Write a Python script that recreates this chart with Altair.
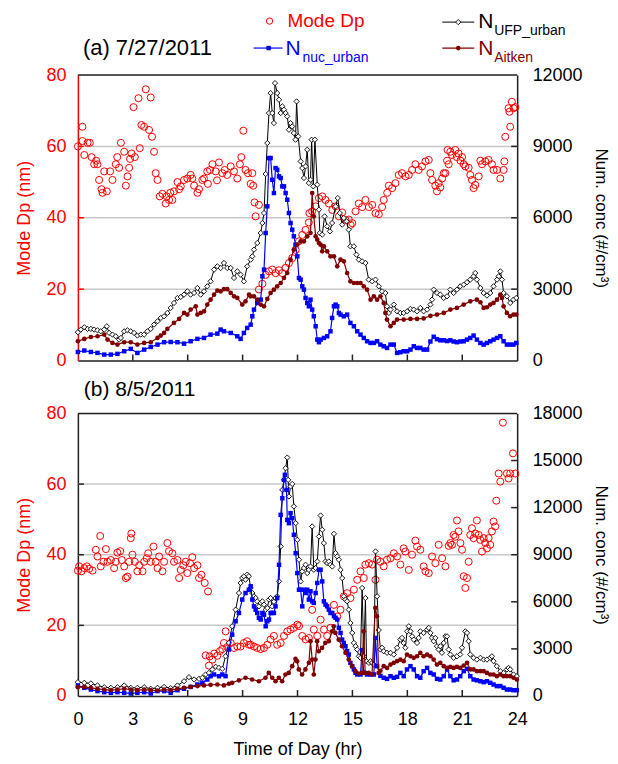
import altair as alt
import pandas as pd

FONT = "Liberation Sans"
RED = "#ff0000"
BLUE = "#0000ff"
MAROON = "#800000"
FRAME = "#222222"

# ---------------- Panel (a) 7/27/2011 ----------------
a_dp = [(0.00,60.0),(0.25,65.5),(0.25,61.5),(0.35,57.6),(0.53,61.0),(0.65,61.0),(0.75,57.0),(0.89,55.0),(1.00,56.0),(1.07,55.0),(1.16,50.6),(1.29,48.0),(1.35,47.0),(1.44,53.0),(1.58,47.4),(1.76,53.0),(1.89,50.6),(2.07,55.0),(2.15,57.0),(2.25,54.0),(2.35,61.0),(2.53,58.5),(2.62,49.0),(2.71,51.6),(2.80,54.0),(2.85,56.5),(2.93,58.0),(3.04,71.0),(3.11,57.0),(3.31,73.5),(3.38,59.5),(3.47,66.0),(3.62,65.5),(3.71,76.0),(3.89,64.6),(3.98,73.7),(4.05,62.7),(4.16,58.5),(4.25,52.5),(4.35,50.6),(4.47,46.0),(4.62,46.7),(4.80,44.0),(4.85,46.0),(4.98,45.0),(5.05,47.0),(5.16,45.0),(5.25,47.4),(5.44,50.0),(5.53,48.0),(5.62,48.8),(5.80,50.6),(5.98,51.0),(6.16,52.0),(6.25,51.0),(6.35,49.0),(6.53,47.0),(6.62,48.0),(6.80,50.6),(6.89,51.0),(7.07,53.0),(7.10,49.5),(7.22,53.4),(7.35,55.0),(7.53,53.0),(7.60,50.5),(7.71,55.5),(7.89,52.5),(8.02,53.4),(8.16,52.0),(8.35,54.4),(8.53,53.0),(8.71,51.0),(8.85,55.0),(8.93,57.0),(9.04,64.4),(9.16,53.4),(9.29,52.5),(9.44,49.5),(9.53,52.5),(9.58,49.0),(9.65,44.3),(9.71,40.4),(9.89,43.6),
        (9.89,19.9),(10.08,21.5),(10.26,24.0),(10.44,25.0),(10.62,25.5),(10.80,24.5),(10.99,25.3),(11.17,24.5),(11.35,26.0),(11.53,27.3),(11.71,28.7),(11.90,31.0),(12.08,33.4),(12.26,35.2),(12.44,36.6),(12.62,38.7),(12.65,41.3),(12.80,41.8),(12.99,43.2),(13.17,45.5),(13.35,46.0),(13.53,45.0),(13.71,44.0),(13.90,42.2),(14.08,43.2),(14.26,40.4),(14.44,41.5),(14.62,39.4),(14.80,39.5),(14.90,38.0),(14.99,38.5),(15.17,41.8),(15.35,44.0),(15.53,43.0),(15.71,45.0),(15.90,43.0),(16.08,43.6),(16.26,41.3),(16.44,41.0),(16.62,43.0),(16.71,45.0),(16.90,47.0),(16.99,49.0),(17.17,48.3),(17.35,49.7),(17.53,52.0),(17.71,52.5),(17.90,51.6),(18.08,52.0),(18.26,53.4),(18.44,55.0),(18.62,53.4),(18.80,54.4),(18.99,55.8),(19.17,56.2),(19.26,52.5),(19.35,50.6),(19.53,49.0),(19.62,47.4),(19.71,49.7),(19.80,48.5),(19.90,51.0),(19.99,52.5),(20.08,52.5),(20.17,56.0),(20.20,59.0),(20.26,55.0),(20.35,58.5),(20.44,57.6),(20.62,59.0),(20.70,57.0),(20.80,58.0),(20.90,56.0),(20.99,57.0),(21.08,55.0),(21.17,54.4),(21.35,54.0),(21.44,52.0),(21.53,50.6),(21.62,48.3),(21.71,49.2),(21.90,51.6),(21.99,56.0),(22.08,55.0),(22.26,55.8),(22.44,56.2),(22.62,55.0),(22.71,53.4),(22.90,53.4),(23.08,51.0),(23.26,53.4),(23.30,55.8),(23.35,62.7),(23.53,70.7),(23.58,69.7),(23.62,65.5),(23.71,72.5),(23.80,70.7),(23.90,71.0)]

a_ufp = [(0.00,1190),(0.16,1300),(0.35,1400),(0.53,1330),(0.71,1330),(0.89,1300),(1.07,1270),(1.25,1230),(1.44,1300),(1.58,1440),(1.71,1160),(1.89,1090),(2.07,1020),(2.25,880),(2.35,950),(2.53,1230),(2.71,1270),(2.89,1230),(3.07,1160),(3.25,1050),(3.44,1090),(3.62,1090),(3.80,1230),(3.98,1330),(4.16,1510),(4.35,1650),(4.53,1790),(4.71,1860),(4.89,2000),(5.07,2210),(5.25,2420),(5.44,2630),(5.62,2670),(5.80,2770),(5.98,2910),(6.16,2770),(6.35,2840),(6.53,3050),(6.71,2770),(6.89,2910),(7.07,3120),(7.25,3330),(7.44,3820),(7.62,3960),(7.80,3890),(7.98,4100),(8.16,3890),(8.35,3890),(8.53,3470),(8.71,3750),(8.89,3610),(9.07,3330),(9.25,3960),(9.44,4240),(9.53,4380),(9.62,4660),(9.80,4940),(9.99,5360),(10.08,5780),(10.17,6200),(10.26,7840),(10.35,9140),(10.44,10400),(10.53,11240),(10.62,10400),(10.71,9980),(10.77,11660),(10.89,11240),(10.99,10960),(11.08,10400),(11.17,10680),(11.26,10540),(11.35,10400),(11.44,10260),(11.53,9700),(11.62,9980),(11.71,9840),(11.80,9560),(11.89,9280),(11.95,10890),(12.04,9420),(12.17,8370),(12.26,8090),(12.35,7670),(12.44,8160),(12.53,8860),(12.62,7460),(12.71,7600),(12.77,9280),(12.86,7320),(12.95,9280),(13.08,7390),(13.17,6340),(13.22,5360),(13.35,5290),(13.48,6060),(13.62,5640),(13.77,5430),(13.89,5780),(14.08,6480),(14.20,6830),(14.31,6200),(14.44,5710),(14.53,5990),(14.68,5850),(14.80,5500),(14.89,4800),(15.08,4800),(15.22,4450),(15.35,4240),(15.53,4170),(15.71,4100),(15.89,3400),(16.08,3330),(16.26,3400),(16.44,3120),(16.62,2910),(16.80,2840),(16.89,2280),(16.99,2000),(17.08,2140),(17.26,2350),(17.44,2070),(17.62,2000),(17.80,2000),(17.99,2070),(18.17,2170),(18.35,2140),(18.53,2070),(18.71,2210),(18.89,2070),(19.08,2140),(19.26,2350),(19.35,2560),(19.44,2980),(19.62,2840),(19.80,2770),(19.99,2630),(20.17,2700),(20.35,2980),(20.53,2840),(20.71,2980),(20.89,3120),(21.08,3190),(21.26,3290),(21.44,3400),(21.62,3540),(21.71,3680),(21.80,3400),(21.99,3050),(22.17,2840),(22.35,2730),(22.53,2840),(22.71,3120),(22.90,3400),(22.99,3540),(23.08,3750),(23.17,3400),(23.26,2840),(23.44,2700),(23.62,2420),(23.80,2560),(23.95,2630)]

a_nuc = [(0.00,360),(0.35,420),(0.71,360),(1.07,320),(1.44,250),(1.80,250),(2.16,280),(2.53,390),(2.89,490),(3.25,320),(3.62,460),(3.98,570),(4.35,670),(4.71,770),(5.07,780),(5.44,770),(5.80,710),(6.16,810),(6.53,910),(6.89,950),(7.25,1090),(7.62,1130),(7.80,1300),(7.98,1230),(8.35,1160),(8.71,1020),(8.89,910),(9.07,1160),(9.25,1370),(9.44,1510),(9.53,1860),(9.62,2140),(9.80,2420),(9.99,2560),(10.08,3540),(10.17,3820),(10.26,5360),(10.35,6480),(10.44,8510),(10.53,8510),(10.62,7600),(10.71,7040),(10.80,8090),(10.89,8020),(10.99,7740),(11.08,7670),(11.17,7320),(11.26,7320),(11.35,7040),(11.44,6760),(11.53,6200),(11.62,5780),(11.71,5500),(11.80,5220),(11.89,4870),(11.99,4380),(12.08,3470),(12.17,3400),(12.26,3120),(12.35,2980),(12.44,2630),(12.53,2420),(12.62,2280),(12.71,2560),(12.80,2140),(12.89,1860),(12.99,1440),(13.08,880),(13.17,770),(13.26,880),(13.44,950),(13.62,1020),(13.80,1230),(13.89,1790),(13.99,2280),(14.08,2350),(14.17,2280),(14.26,2000),(14.35,1930),(14.53,1860),(14.71,1930),(14.89,1580),(15.08,1440),(15.26,1230),(15.44,1090),(15.62,950),(15.80,810),(15.99,740),(16.17,740),(16.35,810),(16.53,670),(16.71,600),(16.89,530),(17.08,670),(17.26,670),(17.44,320),(17.62,350),(17.80,390),(17.99,390),(18.17,460),(18.35,600),(18.53,530),(18.71,530),(18.89,460),(19.08,460),(19.26,800),(19.44,1000),(19.62,900),(19.80,850),(19.99,850),(20.17,820),(20.35,850),(20.53,800),(20.71,770),(20.89,800),(21.08,810),(21.26,880),(21.44,950),(21.62,1050),(21.80,880),(21.99,740),(22.17,670),(22.35,740),(22.53,810),(22.71,880),(22.90,950),(23.08,1020),(23.26,810),(23.44,670),(23.62,670),(23.80,670),(23.95,740)]

a_ait = [(0.00,810),(0.35,910),(0.71,990),(1.07,1020),(1.44,1090),(1.62,880),(1.89,740),(2.16,670),(2.53,770),(2.89,770),(3.25,670),(3.62,740),(3.98,770),(4.35,950),(4.53,1050),(4.71,1160),(4.89,1330),(5.25,1580),(5.53,1750),(5.80,2000),(5.98,1930),(6.16,2140),(6.44,2280),(6.53,1930),(6.71,2000),(6.89,2070),(7.07,2350),(7.25,2560),(7.44,2770),(7.62,2940),(7.80,2910),(7.98,3000),(8.16,3000),(8.35,2840),(8.53,2700),(8.71,2630),(8.98,2350),(9.16,2490),(9.35,2770),(9.44,2700),(9.62,2700),(9.80,2560),(9.99,2350),(10.17,2280),(10.35,2590),(10.53,2840),(10.71,2980),(10.89,3120),(11.08,3260),(11.26,3470),(11.44,3680),(11.62,4240),(11.80,4660),(11.99,4870),(12.17,5010),(12.35,5010),(12.53,5220),(12.71,5360),(12.80,7040),(12.89,6060),(12.99,5220),(13.08,5080),(13.17,4940),(13.26,4870),(13.35,4590),(13.44,4800),(13.62,4590),(13.80,4380),(13.99,4380),(14.17,3960),(14.35,4240),(14.53,4170),(14.71,3680),(14.89,3330),(15.08,3260),(15.26,3260),(15.44,3260),(15.62,3120),(15.80,2980),(15.99,2560),(16.17,2700),(16.35,2560),(16.53,2700),(16.71,2420),(16.80,2000),(16.89,1720),(17.08,1440),(17.26,1580),(17.44,1720),(17.80,1720),(18.17,1750),(18.53,1750),(18.89,1770),(19.26,1880),(19.62,1930),(19.99,2000),(20.35,2140),(20.71,2210),(21.08,2350),(21.44,2490),(21.80,2560),(21.99,2450),(22.17,2210),(22.35,2240),(22.53,2350),(22.71,2420),(22.90,2560),(23.08,2770),(23.17,2630),(23.26,2280),(23.44,2000),(23.62,1860),(23.80,1930),(23.95,1930)]

# ---------------- Panel (b) 8/5/2011 ----------------
b_dp = [(0.00,35.5),(0.07,36.7),(0.20,35.3),(0.35,36.2),(0.49,36.7),(0.62,36.0),(0.80,35.5),(0.98,41.4),(1.07,39.5),(1.22,45.3),(1.25,36.7),(1.40,38.0),(1.53,41.6),(1.62,38.0),(1.80,38.5),(1.98,36.2),(2.07,38.0),(2.16,40.6),(2.31,41.0),(2.40,38.5),(2.53,36.7),(2.62,33.4),(2.71,33.8),(2.80,38.0),(2.89,44.7),(2.92,46.0),(2.98,40.0),(3.11,38.0),(3.25,35.3),(3.35,37.0),(3.53,35.3),(3.62,38.0),(3.76,39.0),(3.84,40.4),(3.98,38.0),(4.13,42.3),(4.25,38.0),(4.35,36.2),(4.44,39.5),(4.62,35.3),(4.71,38.0),(4.89,43.3),(4.98,41.0),(5.16,40.4),(5.25,38.0),(5.44,38.5),(5.53,33.4),(5.62,35.7),(5.76,37.0),(5.89,38.0),(5.98,34.8),(6.13,37.6),(6.25,39.3),(6.35,36.2),(6.53,37.0),(6.62,33.4),(6.75,34.3),(6.93,32.0),(7.11,29.6),
        (6.98,11.5),(7.16,8.6),(7.20,11.2),(7.35,10.3),(7.45,12.0),(7.62,11.4),(7.76,12.7),(7.89,13.3),(7.98,15.0),(8.07,18.3),(8.16,13.9),(8.35,15.0),(8.53,13.6),(8.71,14.0),(8.89,14.0),(9.07,15.0),(9.25,15.5),(9.35,14.5),(9.44,14.5),(9.62,14.0),(9.80,13.6),(9.99,13.3),(10.17,13.6),(10.35,14.5),(10.53,16.0),(10.71,17.0),(10.89,14.5),(11.08,15.0),(11.26,17.0),(11.44,18.3),(11.62,18.8),(11.80,19.3),(11.99,20.2),(12.08,19.8),(12.26,17.0),(12.44,16.0),(12.62,16.4),(12.80,24.4),(12.89,18.8),(13.08,17.0),(13.26,21.6),(13.44,18.8),(13.62,17.0),(13.80,19.3),(13.99,25.8),(14.17,22.5),(14.35,24.4),(14.53,28.2),(14.71,29.1),(14.89,27.7),(15.08,30.1),(15.26,32.9),(15.44,35.3),(15.62,33.4),(15.71,37.2),(15.90,37.6),(16.08,37.2),(16.26,32.9),(16.35,38.6),(16.53,38.0),(16.71,36.7),(16.89,38.6),(17.08,39.0),(17.26,40.4),(17.44,39.5),(17.62,37.2),(17.80,41.8),(17.89,40.9),(18.08,35.7),(18.26,40.0),(18.44,44.0),(18.53,42.3),(18.71,41.4),(18.89,36.7),(18.99,35.3),(19.17,34.8),(19.35,39.5),(19.53,37.6),(19.71,42.8),(19.90,39.0),(20.08,36.7),(20.26,42.5),(20.35,43.3),(20.44,42.8),(20.53,45.6),(20.62,45.1),(20.71,49.7),(20.80,46.6),(20.90,43.3),(20.99,41.4),(21.08,33.9),(21.17,30.6),(21.26,33.4),(21.35,38.0),(21.44,45.6),(21.53,47.5),(21.62,44.7),(21.71,46.0),(21.80,49.7),(21.90,45.6),(21.99,44.2),(22.08,40.9),(22.17,44.7),(22.26,43.3),(22.35,41.8),(22.44,44.7),(22.53,42.8),(22.62,46.6),(22.71,49.4),(22.80,48.0),(22.86,55.3),(22.99,63.0),(23.08,60.7),(23.22,77.4),(23.44,63.0),(23.53,61.6),(23.62,63.0),(23.77,68.7),(23.90,63.0)]

b_ufp = [(0.00,880),(0.35,840),(0.71,800),(1.07,670),(1.44,560),(1.80,520),(2.16,560),(2.53,670),(2.89,520),(3.25,520),(3.62,560),(3.98,460),(4.35,520),(4.71,580),(5.07,500),(5.44,670),(5.80,940),(6.07,1200),(6.35,1050),(6.62,1090),(6.80,1160),(6.98,1370),(7.16,1470),(7.35,1690),(7.53,1860),(7.71,1790),(7.89,1730),(8.07,2530),(8.25,3380),(8.43,4440),(8.62,5500),(8.80,6560),(8.89,7200),(8.98,7520),(9.07,7620),(9.16,7410),(9.25,7730),(9.34,7630),(9.44,6880),(9.53,6560),(9.62,6350),(9.71,6240),(9.80,6030),(9.89,5710),(9.99,5930),(10.08,6030),(10.17,5820),(10.26,5500),(10.35,5600),(10.44,6140),(10.53,6240),(10.62,5710),(10.71,6000),(10.80,6240),(10.89,6350),(10.99,7300),(11.08,9530),(11.17,13130),(11.26,13770),(11.35,14510),(11.44,15190),(11.49,13770),(11.53,12710),(11.62,13350),(11.71,13510),(11.80,12080),(11.90,11010),(11.99,9950),(12.08,8680),(12.17,7300),(12.26,7940),(12.35,8150),(12.44,8360),(12.53,7830),(12.62,8040),(12.71,8250),(12.80,10800),(12.89,8040),(12.99,8150),(13.08,8570),(13.17,10160),(13.26,11500),(13.35,10590),(13.44,9740),(13.53,8570),(13.62,8470),(13.71,8570),(13.80,8360),(13.90,8250),(13.99,10330),(14.08,9100),(14.17,8890),(14.26,8680),(14.35,8040),(14.44,7510),(14.53,6350),(14.62,6140),(14.71,6030),(14.80,5500),(14.89,4650),(14.99,4020),(15.08,3380),(15.17,3170),(15.26,2960),(15.35,2530),(15.44,2430),(15.53,6880),(15.62,2530),(15.71,6240),(15.77,2210),(15.90,2110),(15.99,2210),(16.08,2110),(16.17,2000),(16.26,9210),(16.35,6350),(16.44,4200),(16.53,2960),(16.62,3070),(16.71,2850),(16.89,2750),(17.08,2750),(17.26,2640),(17.44,3070),(17.62,3590),(17.71,3700),(17.80,3380),(17.89,3070),(17.99,4120),(18.08,4440),(18.17,4120),(18.26,3800),(18.35,3590),(18.53,3380),(18.62,3700),(18.71,4120),(18.89,4020),(19.08,4230),(19.17,4340),(19.26,4020),(19.35,3700),(19.44,3490),(19.53,3700),(19.62,3170),(19.71,2960),(19.80,3170),(19.89,2750),(19.99,3380),(20.08,3800),(20.17,3800),(20.26,2960),(20.35,2640),(20.53,2430),(20.71,2530),(20.89,2640),(20.99,3070),(21.17,4120),(21.26,4020),(21.35,3490),(21.44,2640),(21.62,2430),(21.80,2320),(21.99,2430),(22.17,2320),(22.35,2320),(22.53,2430),(22.62,2530),(22.71,2220),(22.89,1900),(23.08,1580),(23.26,1470),(23.44,1690),(23.53,1790),(23.62,1690),(23.80,1370),(23.98,1260)]

b_nuc = [(0.00,670),(0.35,520),(0.71,410),(1.07,310),(1.44,240),(1.80,200),(2.16,240),(2.53,200),(2.89,160),(3.25,200),(3.62,240),(3.98,160),(4.35,310),(4.71,310),(5.07,200),(5.44,370),(5.80,460),(6.16,580),(6.53,730),(6.80,840),(7.07,1050),(7.25,1260),(7.44,1370),(7.71,1260),(7.89,1370),(8.07,1260),(8.25,2960),(8.43,3910),(8.62,4760),(8.80,5290),(8.98,6140),(9.16,6560),(9.34,6770),(9.44,6990),(9.53,6140),(9.62,5710),(9.71,5500),(9.80,5290),(9.89,4980),(9.99,4870),(10.08,5290),(10.17,5180),(10.26,4440),(10.35,4760),(10.44,4870),(10.53,5290),(10.62,5290),(10.71,5290),(10.80,5710),(10.89,6240),(10.99,8360),(11.08,11540),(11.17,12600),(11.26,13770),(11.31,14090),(11.40,13130),(11.44,11220),(11.53,11010),(11.62,11650),(11.71,11330),(11.80,10270),(11.90,9100),(11.99,7830),(12.08,6770),(12.17,6770),(12.26,5710),(12.35,6770),(12.44,6560),(12.53,6770),(12.62,6140),(12.71,6670),(12.80,6030),(12.89,5930),(12.99,6560),(13.08,7200),(13.17,8040),(13.26,8040),(13.35,7300),(13.44,6030),(13.53,5820),(13.62,5710),(13.71,5500),(13.80,5290),(13.90,5290),(13.99,5080),(14.08,4980),(14.17,4870),(14.26,4340),(14.35,4020),(14.44,3590),(14.53,3380),(14.62,3170),(14.71,2860),(14.80,2640),(14.89,2110),(14.99,1900),(15.08,1690),(15.17,1480),(15.26,1370),(15.44,1370),(15.53,2920),(15.62,1480),(15.80,1370),(15.99,1370),(16.17,1370),(16.26,3700),(16.35,1900),(16.53,1280),(16.71,1160),(16.89,1090),(17.08,1260),(17.26,1160),(17.44,1220),(17.62,1470),(17.80,1260),(17.98,1690),(18.17,1900),(18.35,1690),(18.53,1260),(18.71,1160),(18.89,1580),(19.08,1790),(19.26,1470),(19.44,1370),(19.62,1090),(19.80,1050),(19.99,1260),(20.17,1690),(20.35,1260),(20.53,1000),(20.71,1050),(20.89,1260),(21.08,1580),(21.26,1730),(21.44,1260),(21.62,1050),(21.80,1000),(21.99,940),(22.17,880),(22.35,940),(22.53,840),(22.71,730),(22.89,630),(23.08,630),(23.26,520),(23.44,410),(23.62,410),(23.80,370),(23.98,370)]

b_ait = [(0.00,560),(0.35,580),(0.71,520),(1.07,460),(1.44,410),(1.80,370),(2.16,410),(2.53,460),(2.89,410),(3.25,370),(3.62,410),(3.98,370),(4.35,350),(4.71,410),(5.07,370),(5.44,460),(5.80,520),(6.16,580),(6.53,630),(6.89,670),(7.25,710),(7.62,730),(7.98,670),(8.25,780),(8.43,840),(8.80,1000),(9.16,1160),(9.52,1050),(9.89,940),(10.25,1160),(10.43,1470),(10.62,1160),(10.80,940),(10.98,1160),(11.16,940),(11.34,1370),(11.52,1470),(11.71,1900),(11.89,2360),(11.98,2210),(12.07,1690),(12.25,1370),(12.43,1690),(12.62,2110),(12.71,3490),(12.80,2320),(12.89,1370),(12.98,2320),(13.07,3490),(13.16,2850),(13.34,3070),(13.52,3380),(13.71,3490),(13.89,4120),(13.98,4440),(14.07,4020),(14.25,3590),(14.43,3170),(14.62,2750),(14.80,2320),(14.98,1900),(15.16,1580),(15.34,1430),(15.52,1470),(15.61,4120),(15.70,1470),(15.89,1470),(16.07,1370),(16.25,5610),(16.34,5080),(16.43,1470),(16.53,1600),(16.71,1900),(16.89,1790),(17.08,2000),(17.26,2110),(17.44,2220),(17.62,2320),(17.80,2220),(17.98,2640),(18.17,2530),(18.35,2430),(18.53,2530),(18.71,2750),(18.89,2530),(19.08,2640),(19.26,2530),(19.44,2320),(19.62,2000),(19.80,2110),(19.99,1900),(20.17,1790),(20.35,1850),(20.53,1790),(20.71,1850),(20.89,1790),(21.08,1940),(21.26,2110),(21.44,1690),(21.62,1690),(21.80,1580),(21.99,1580),(22.17,1580),(22.35,1470),(22.53,1370),(22.71,1370),(22.89,1260),(23.08,1370),(23.26,1260),(23.44,1260),(23.62,1260),(23.80,1160),(23.98,1050)]

X_TICKS = [0, 3, 6, 9, 12, 15, 18, 21, 24]
DP_TICKS = [0, 20, 40, 60, 80]
DP_GRID = [20, 40, 60]
A_N_TICKS = [0, 3000, 6000, 9000, 12000]
B_N_TICKS = [0, 3000, 6000, 9000, 12000, 15000, 18000]

W = 440
ONE = pd.DataFrame({"k": [0]})


def make_x(show):
    if show:
        ax = alt.Axis(values=X_TICKS, labels=True, ticks=False, tickSize=0, domain=True,
                      domainColor=FRAME, domainWidth=1.5, grid=False, labelFontSize=18,
                      labelFont=FONT, labelColor="black", labelPadding=15, labelFlush=False,
                      titleFontSize=18, titleFont=FONT, titleFontWeight="normal",
                      titleColor="black", titlePadding=12)
        return alt.X("t:Q", scale=alt.Scale(domain=[0, 24], nice=False, zero=False),
                     axis=ax, title="Time of Day (hr)")
    ax = alt.Axis(values=X_TICKS, labels=False, ticks=False, tickSize=0, domain=True,
                  domainColor=FRAME, domainWidth=1.5, grid=False)
    return alt.X("t:Q", scale=alt.Scale(domain=[0, 24], nice=False, zero=False),
                 axis=ax, title=None)


def make_ydp(left_color):
    ax = alt.Axis(values=DP_TICKS, orient="left", labelColor=RED, titleColor=RED,
                  domainColor=left_color, domainWidth=1.5, ticks=False, tickSize=0,
                  grid=False, labelFontSize=18, labelFont=FONT, labelPadding=12,
                  titleFontSize=18, titleFont=FONT, titleFontWeight="normal", titlePadding=12)
    return alt.Y("dp:Q", scale=alt.Scale(domain=[0, 80], nice=False, zero=True),
                 axis=ax, title="Mode Dp (nm)")


def make_yn(nmax, nticks):
    ax = alt.Axis(values=nticks, orient="right", format="d", labelColor="black",
                  titleColor="black", domainColor=FRAME, domainWidth=1.5, ticks=False,
                  tickSize=0, grid=False, labelFontSize=18, labelFont=FONT, labelPadding=15,
                  titleFontSize=17, titleFont=FONT, titleFontWeight="normal", titlePadding=9)
    return alt.Y("n:Q", scale=alt.Scale(domain=[0, nmax], nice=False, zero=True),
                 axis=ax, title="Num. conc (#/cm³)")


def txt(s, x, y, size, color):
    return alt.Chart(ONE).mark_text(align="left", baseline="alphabetic", fontSize=size,
                                    font=FONT, color=color).encode(
        x=alt.value(x), y=alt.value(y), text=alt.value(s))


def panel(dp, ufp, nuc, ait, nmax, nticks, label, H, show_x, left_color, legend):
    X = make_x(show_x)
    YDP = make_ydp(left_color)
    YN = make_yn(nmax, nticks)

    dp_df = pd.DataFrame(dp, columns=["t", "dp"])
    ufp_df = pd.DataFrame(ufp, columns=["t", "n"])
    nuc_df = pd.DataFrame(nuc, columns=["t", "n"])
    ait_df = pd.DataFrame(ait, columns=["t", "n"])

    grid = alt.Chart(pd.DataFrame({"dp": DP_GRID})).mark_rule(
        color="#c8c8c8", strokeWidth=1.5).encode(y=YDP)
    lticks = alt.Chart(pd.DataFrame({"dp": DP_GRID})).mark_rule(
        color=left_color, strokeWidth=1.5).encode(y=YDP, x=alt.value(0), x2=alt.value(6))
    dp_pts = alt.Chart(dp_df).mark_point(shape="circle", filled=False, color=RED, size=50,
                                          strokeWidth=1, opacity=1).encode(x=X, y=YDP)
    dp_sub = alt.layer(grid, dp_pts, lticks)

    ufp_line = alt.Chart(ufp_df).mark_line(color="black", strokeWidth=1).encode(x=X, y=YN)
    ufp_pts = alt.Chart(ufp_df).mark_point(shape="diamond", filled=True, fill="white",
                                            stroke="black", strokeWidth=0.9, size=28,
                                            opacity=1).encode(x=X, y=YN)
    nuc_line = alt.Chart(nuc_df).mark_line(color=BLUE, strokeWidth=1.2).encode(x=X, y=YN)
    nuc_pts = alt.Chart(nuc_df).mark_square(color=BLUE, size=20, opacity=1).encode(x=X, y=YN)
    ait_line = alt.Chart(ait_df).mark_line(color=MAROON, strokeWidth=1.2).encode(x=X, y=YN)
    ait_pts = alt.Chart(ait_df).mark_circle(color=MAROON, size=22, opacity=1).encode(x=X, y=YN)

    rticks = alt.Chart(pd.DataFrame({"n": nticks[1:-1]})).mark_rule(
        color=FRAME, strokeWidth=1.5).encode(y=YN, x=alt.value(W - 6), x2=alt.value(W))
    bticks = alt.Chart(pd.DataFrame({"t": X_TICKS[1:-1]})).mark_rule(
        color=FRAME, strokeWidth=1.5).encode(x=X, y=alt.value(H - 6), y2=alt.value(H))
    top = alt.Chart(ONE).mark_rule(color=FRAME, strokeWidth=1.5).encode(
        x=alt.value(0), x2=alt.value(W), y=alt.value(0))

    extras = [rticks, bticks, top]
    if legend:
        extras += [
            txt(label, 5, -20, 22, "black"),
            alt.Chart(ONE).mark_point(shape="circle", filled=False, color=RED, size=40,
                                      strokeWidth=1, opacity=1).encode(
                x=alt.value(192), y=alt.value(-54)),
            txt("Mode Dp", 210, -48, 19, RED),
            alt.Chart(ONE).mark_rule(color="black", strokeWidth=1).encode(
                x=alt.value(365), x2=alt.value(397), y=alt.value(-53)),
            alt.Chart(ONE).mark_point(shape="diamond", filled=True, fill="white",
                                      stroke="black", strokeWidth=0.9, size=28,
                                      opacity=1).encode(x=alt.value(381), y=alt.value(-53)),
            txt("N", 401, -47, 21, "black"),
            txt("UFP_urban", 417, -40, 14, "black"),
            alt.Chart(ONE).mark_rule(color=BLUE, strokeWidth=1.2).encode(
                x=alt.value(176), x2=alt.value(205), y=alt.value(-27)),
            alt.Chart(ONE).mark_square(color=BLUE, size=20, opacity=1).encode(
                x=alt.value(191), y=alt.value(-27)),
            txt("N", 208, -20, 21, BLUE),
            txt("nuc_urban", 225, -13, 14, BLUE),
            alt.Chart(ONE).mark_rule(color=MAROON, strokeWidth=1.2).encode(
                x=alt.value(365), x2=alt.value(397), y=alt.value(-27)),
            alt.Chart(ONE).mark_circle(color=MAROON, size=22, opacity=1).encode(
                x=alt.value(381), y=alt.value(-27)),
            txt("N", 401, -20, 21, MAROON),
            txt("Aitken", 417, -13, 14, MAROON),
        ]
    else:
        extras += [txt(label, 6, -17, 21, "black")]

    n_sub = alt.layer(ufp_line, ufp_pts, nuc_line, nuc_pts, ait_line, ait_pts, *extras)
    return alt.layer(dp_sub, n_sub).resolve_scale(y="independent").properties(width=W, height=H)


pa = panel(a_dp, a_ufp, a_nuc, a_ait, 12000, A_N_TICKS, "(a) 7/27/2011", 286, False, RED, True)
pb = panel(b_dp, b_ufp, b_nuc, b_ait, 18000, B_N_TICKS, "(b) 8/5/2011", 283, True, FRAME, False)

chart = alt.vconcat(pa, pb, spacing=8).properties(
    padding={"left": 7, "top": 1.5, "right": 0, "bottom": 0}
).configure_view(stroke="transparent").configure(font=FONT)

chart.save("out.html", embed_options={"renderer": "svg", "actions": False})
